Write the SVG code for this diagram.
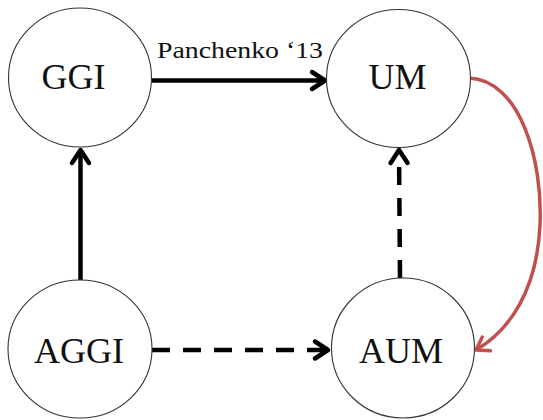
<svg xmlns="http://www.w3.org/2000/svg" width="543" height="420" viewBox="0 0 543 420">
<style>
.node{fill:#fff;stroke:#333;stroke-width:1.1}
.lbl{font-family:"Liberation Serif","Times New Roman",serif;font-size:36px;fill:#111;text-anchor:middle}
.edge{fill:none;stroke:#000;stroke-width:4.5}
.dash{stroke-dasharray:18 13}
.red{fill:none;stroke:#c0504d;stroke-width:3.5}
.elbl{font-family:"Liberation Serif","Times New Roman",serif;font-size:24px;fill:#111}
</style>
<defs>
<marker id="ah" markerUnits="userSpaceOnUse" viewBox="-16 -11 18 22" refX="0" refY="0" markerWidth="18" markerHeight="22" orient="auto" overflow="visible">
<path d="M-13,-8.5 L0,0 L-13,8.5" fill="none" stroke="#000" stroke-width="4.5" stroke-linecap="round" stroke-linejoin="round"/>
</marker>
<marker id="ahr" markerUnits="userSpaceOnUse" viewBox="-16 -11 18 22" refX="0" refY="0" markerWidth="18" markerHeight="22" orient="auto" overflow="visible">
<path d="M-12,-8 L0,0 L-12,8" fill="none" stroke="#c0504d" stroke-width="3.5" stroke-linecap="round" stroke-linejoin="round"/>
</marker>
</defs>
<g id="connectors">
<path class="edge" d="M152,80.5 L325,80.5" marker-end="url(#ah)"/>
<path class="edge" d="M80.5,280 L80.5,150" marker-end="url(#ah)"/>
<path class="edge dash" d="M152,350 L328,350" marker-end="url(#ah)"/>
<path class="edge dash" d="M400,278 L399,150" marker-end="url(#ah)"/>
<path class="red" d="M469,78 C520,80 543,160 540,225 C537,290 510,330 476,350" marker-end="url(#ahr)"/>
<text class="elbl" x="157" y="58" textLength="166" lengthAdjust="spacingAndGlyphs">Panchenko ‘13</text>
</g>
<g id="GGI">
<ellipse class="node" cx="80" cy="77.5" rx="71.5" ry="69.5"/>
<text class="lbl" x="73.5" y="89">GGI</text>
</g>
<g id="UM">
<ellipse class="node" cx="398.5" cy="78.5" rx="72" ry="69"/>
<text class="lbl" x="397.5" y="89">UM</text>
</g>
<g id="AGGI">
<ellipse class="node" cx="80" cy="349" rx="72" ry="69"/>
<text class="lbl" x="79" y="363">AGGI</text>
</g>
<g id="AUM">
<ellipse class="node" cx="403" cy="348" rx="71.5" ry="70"/>
<text class="lbl" x="401" y="363">AUM</text>
</g>
</svg>
